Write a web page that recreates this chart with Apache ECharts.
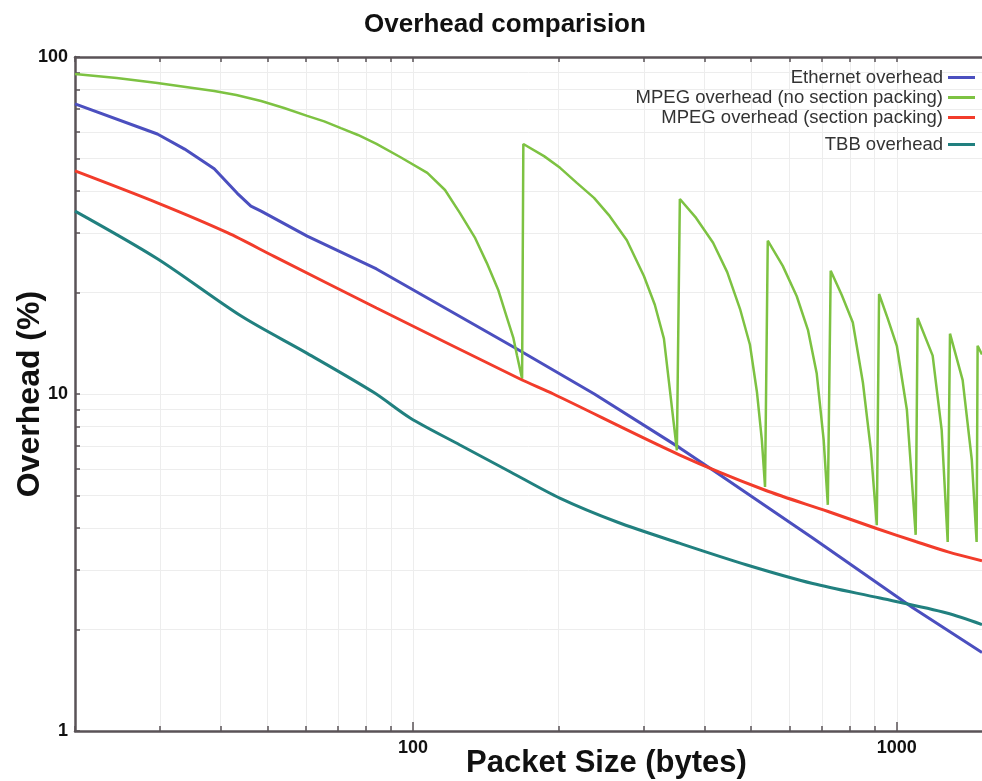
<!DOCTYPE html>
<html>
<head>
<meta charset="utf-8">
<title>Overhead comparision</title>
<script src="https://cdn.jsdelivr.net/npm/echarts@6/dist/echarts.min.js"></script>
<style>
  html, body { margin: 0; padding: 0; background: #fff; }
  #main { width: 982px; height: 781px; }
</style>
</head>
<body>
<div id="main"></div>
<script>
// [packet size (bytes), overhead (%)]
const ethernet = [
  [20, 72.6], [29.6, 59.1], [33.7, 53.3], [38.8, 46.6], [43.3, 39.4], [46.2, 36.1],
  [48.5, 34.9], [60.4, 29.4], [84, 23.5], [164, 13.6], [237, 10.0], [356, 6.92],
  [417, 5.94], [670, 3.74], [1079, 2.32], [1500, 1.71]
];
const mpegNoPacking = [
  [20, 89.1], [24.4, 86.6], [29.6, 83.7], [38.8, 79.3], [43.1, 77.1], [48.5, 74.0], [54.1, 70.6],
  [60.4, 66.9], [65.5, 64.4], [70.9, 61.5], [76.9, 58.7], [84, 55.2], [94, 50.5], [107, 45.3],
  [116.4, 40.3], [125, 34.4], [134.4, 29.0], [142, 24.5], [149.9, 20.4], [156, 17.0], [161.1, 14.7],
  [164, 13.0], [168, 11.1],
  [169, 55.2], [186.5, 50.8], [201.3, 46.9], [218, 42.3], [236.6, 38.2], [255, 33.7], [276.6, 28.6],
  [300, 22.4], [316, 18.4], [330, 14.6], [340, 10.1], [351, 6.8],
  [356, 37.9], [384.6, 33.3], [417, 28.1], [446, 23.0], [474, 17.9], [497, 14.0], [514, 10.1],
  [526, 7.3], [534, 5.3],
  [541, 28.5], [581, 24.0], [621, 19.5], [655, 15.5], [683, 11.5], [706, 7.3], [720, 4.69],
  [730, 23.2], [769, 19.7], [811, 16.3], [851, 10.8], [884, 6.8], [909, 4.08],
  [919, 19.8], [957, 16.8], [1000, 13.9], [1049, 8.98], [1094, 3.82],
  [1104, 16.8], [1186, 13.0], [1238, 7.82], [1274, 3.64],
  [1288, 15.1], [1368, 11.0], [1429, 6.37], [1462, 3.64],
  [1469, 13.9], [1500, 13.1]
];
const mpegPacking = [
  [20, 45.9], [29.6, 36.9], [41.3, 30.1], [51.6, 25.6], [84, 18.0], [166, 11.1],
  [195, 10.0], [356, 6.59], [533, 5.19], [721, 4.48], [908, 3.99], [1094, 3.65],
  [1276, 3.40], [1500, 3.2]
];
const tbb = [
  [20, 34.9], [29.6, 25.2], [44.2, 17.0], [60.4, 13.2], [83, 10.1], [98.6, 8.49],
  [125, 7.06], [159, 5.87], [201, 4.91], [264, 4.17], [355, 3.61], [490, 3.11],
  [670, 2.74], [923, 2.48], [1268, 2.24], [1500, 2.07]
];

const xTicks = [20, 30, 40, 50, 60, 70, 80, 90, 100, 200, 300, 400, 500, 600, 700, 800, 900, 1000];
const xMajor = [100, 1000];
const yTicks = [1, 2, 3, 4, 5, 6, 7, 8, 9, 10, 20, 30, 40, 50, 60, 70, 80, 90, 100];
const yMajor = [1, 10, 100];

var myChart = echarts.init(document.getElementById('main'));

const frame = { show: true, lineStyle: { color: '#5a5357', width: 2.5 } };
const tick = { show: true, inside: true, length: 5, lineStyle: { color: '#5a5357', width: 1.5 } };
const bigTick = { show: true, inside: true, length: 9, lineStyle: { color: '#5a5357', width: 1.5 } };
const grid = { show: true, lineStyle: { color: '#ededed', width: 1 } };
const labelFont = { fontFamily: 'Liberation Sans', fontSize: 18, fontWeight: 'bold', color: '#111' };
const nameFont = { fontFamily: 'Liberation Sans', fontSize: 31, fontWeight: 'bold', color: '#111' };
const legendFont = { fontFamily: 'Liberation Sans', fontSize: 18.5, lineHeight: 18, color: '#333' };

let option = {
  animation: false,
  title: {
    text: 'Overhead comparision',
    left: 500, textAlign: 'center',
    top: 7,
    textStyle: { fontFamily: 'Liberation Sans', fontSize: 26, fontWeight: 'bold', color: '#111' }
  },
  legend: [
    {
      data: ['Ethernet overhead', 'MPEG overhead (no section packing)', 'MPEG overhead (section packing)'],
      orient: 'vertical', align: 'right', right: 7, top: 68, padding: 0, itemGap: 1,
      icon: 'rect', itemWidth: 27, itemHeight: 3, textStyle: legendFont
    },
    {
      data: ['TBB overhead'],
      orient: 'vertical', align: 'right', right: 7, top: 135, padding: 0,
      icon: 'rect', itemWidth: 27, itemHeight: 3, textStyle: legendFont
    }
  ],
  grid: { left: 75, top: 57, right: 0, bottom: 50, outerBoundsMode: 'none' },
  xAxis: [
    {
      type: 'log', min: 20, max: 1500,
      name: 'Packet Size (bytes)', nameLocation: 'middle', nameGap: 17, nameMoveOverlap: false,
      nameTextStyle: Object.assign({ padding: [0, 0, 0, 156] }, nameFont),
      axisLine: frame,
      axisTick: Object.assign({ customValues: xTicks }, tick),
      axisLabel: Object.assign({ customValues: xMajor, margin: 8, formatter: v => String(v) }, labelFont),
      splitLine: grid
    },
    {
      type: 'log', min: 20, max: 1500, position: 'top',
      axisLine: frame,
      axisTick: Object.assign({ customValues: xTicks }, tick),
      axisLabel: { show: false },
      splitLine: { show: false }
    },
    {
      // longer ticks at the decades
      type: 'log', min: 20, max: 1500, position: 'bottom',
      axisLine: { show: false },
      axisTick: Object.assign({ customValues: xMajor }, bigTick),
      axisLabel: { show: false },
      splitLine: { show: false }
    }
  ],
  yAxis: {
    type: 'log', min: 1, max: 100,
    name: 'Overhead (%)', nameLocation: 'middle', nameGap: 29, nameMoveOverlap: false,
    nameTextStyle: Object.assign({}, nameFont, { fontSize: 32 }),
    axisLine: frame,
    axisTick: Object.assign({ customValues: yTicks }, tick),
    axisLabel: Object.assign({ customValues: yMajor, margin: 7, formatter: v => String(v) }, labelFont),
    splitLine: grid
  },
  series: [
    {
      name: 'Ethernet overhead', type: 'line', data: ethernet,
      showSymbol: false, symbol: 'none', color: '#4b4fbf', lineStyle: { width: 3 }
    },
    {
      name: 'MPEG overhead (no section packing)', type: 'line', data: mpegNoPacking,
      showSymbol: false, symbol: 'none', color: '#7dc242', lineStyle: { width: 2.5 }
    },
    {
      name: 'MPEG overhead (section packing)', type: 'line', data: mpegPacking, smooth: 0.3,
      showSymbol: false, symbol: 'none', color: '#f23c2b', lineStyle: { width: 3 }
    },
    {
      name: 'TBB overhead', type: 'line', data: tbb, smooth: 0.3,
      showSymbol: false, symbol: 'none', color: '#21807f', lineStyle: { width: 3 }
    }
  ]
};
myChart.setOption(option);
</script>
</body>
</html>
